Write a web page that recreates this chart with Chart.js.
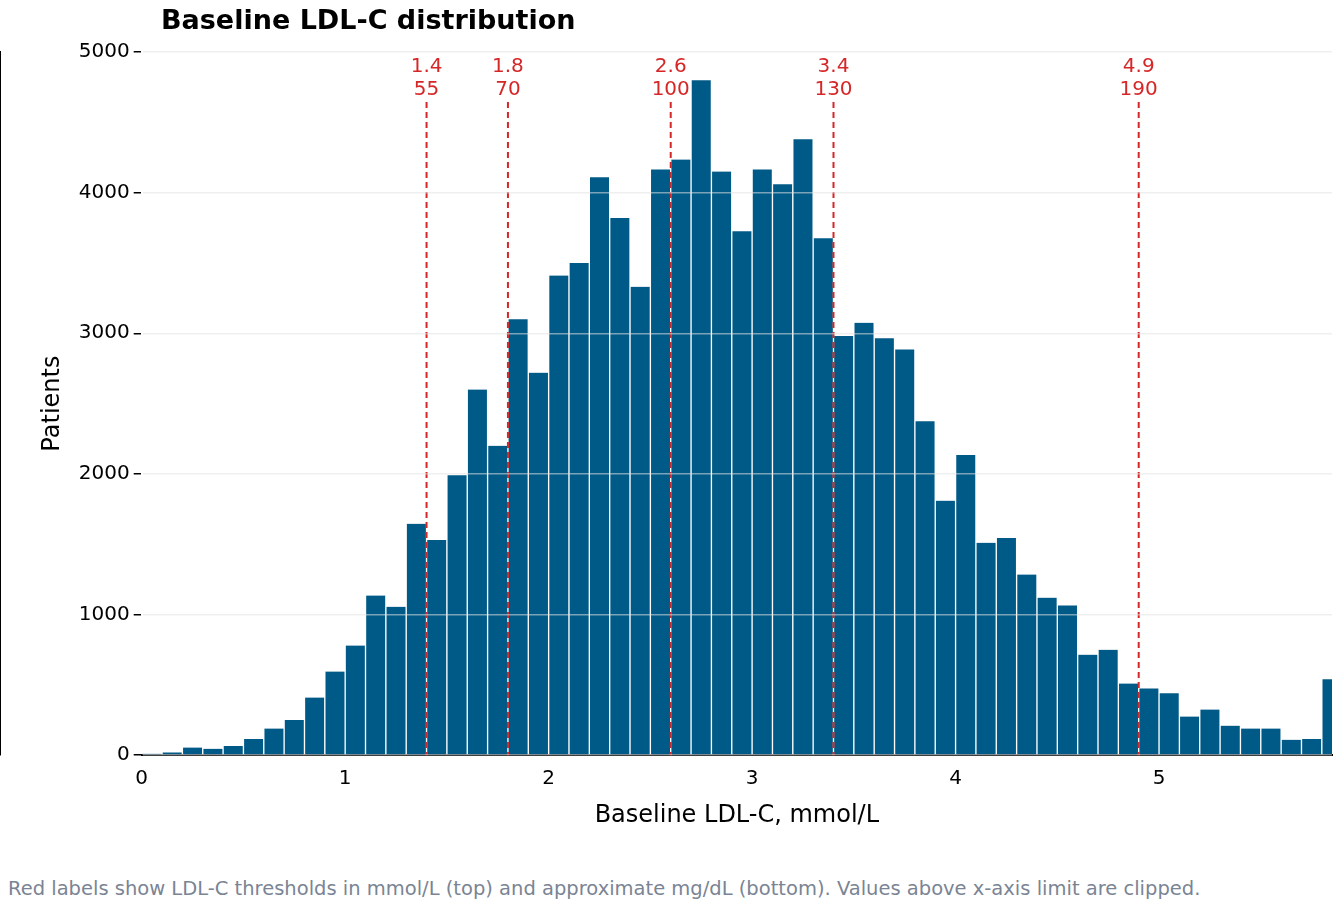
<!DOCTYPE html>
<html><head><meta charset="utf-8">
<script src="https://cdn.jsdelivr.net/npm/chart.js@4"></script>
<style>html,body{margin:0;background:#fff;}#wrap{position:relative;width:1342px;height:912px;}
#ttl{position:absolute;left:161px;top:4px;font:bold 27px "DejaVu Sans";color:#000;}
#cap{position:absolute;left:8px;top:877px;font:19.5px "DejaVu Sans";color:#7a8494;white-space:nowrap;}</style>
</head><body><div id="wrap"><canvas id="c" width="1342" height="860"></canvas>
<div id="ttl">Baseline LDL-C distribution</div>
<div id="cap">Red labels show LDL-C thresholds in mmol/L (top) and approximate mg/dL (bottom). Values above x-axis limit are clipped.</div></div>
<script>
const binStarts = [];
for (let i = 0; i < 59; i++) binStarts.push(+(i*0.1).toFixed(1));
const counts = [10,20,55,45,65,115,190,250,410,595,780,1135,1055,1645,1530,1990,2600,2200,3100,2720,3410,3500,4110,3820,3330,4165,4235,4800,4150,3725,4165,4060,4380,3675,2980,3075,2965,2885,2375,1810,2135,1510,1545,1285,1120,1065,715,750,510,475,440,275,325,210,190,190,110,115,540];
const thrMmol = [1.4,1.8,2.6,3.4,4.9];
const thrMg = ['55','70','100','130','190'];
const yTicks = [0,1000,2000,3000,4000,5000];
const xMax = 5.85;

const thrPlugin = {id:'thr', afterDatasetsDraw(ch){
  const {ctx, chartArea:a, scales:{x}} = ch;
  ctx.save();
  ctx.strokeStyle='#d62728'; ctx.lineWidth=2; ctx.setLineDash([6,4]);
  thrMmol.forEach((v,i)=>{
    const px = x.getPixelForValue(v);
    ctx.beginPath(); ctx.moveTo(px,a.top+50); ctx.lineTo(px,a.bottom); ctx.stroke();
    ctx.fillStyle='#d62728'; ctx.font='20px "DejaVu Sans"'; ctx.textAlign='center';
    ctx.fillText(String(v), px, a.top+20);
    ctx.fillText(thrMg[i], px, a.top+43);
  });
  ctx.restore();
}};

new Chart(document.getElementById('c'), {
  type:'bar',
  data:{datasets:[{data:binStarts.map((s,i)=>({x:s+0.05,y:counts[i]})),
    backgroundColor:'#005a87', borderColor:'#ffffff', borderWidth:{left:1,right:1}, borderSkipped:'bottom',
    barPercentage:1, categoryPercentage:1, grouped:false}]},
  options:{responsive:false, animation:false, devicePixelRatio:1,
    layout:{padding:{left:34,right:10,top:52,bottom:26}},
    plugins:{legend:{display:false}, tooltip:{enabled:false}},
    scales:{
      x:{type:'linear', min:0, max:xMax, offset:false,
        afterBuildTicks(ax){ax.ticks=[0,1,2,3,4,5].map(v=>({value:v}));},
        grid:{display:false, drawTicks:true, tickLength:8, tickColor:'#000'},
        border:{display:true,color:'#000',width:2},
        ticks:{color:'#000', font:{family:'DejaVu Sans',size:20}, padding:4},
        title:{display:true, text:'Baseline LDL-C, mmol/L', color:'#000', font:{family:'DejaVu Sans',size:24}, padding:{top:6}}},
      y:{min:0, max:5000,
        afterBuildTicks(ax){ax.ticks=yTicks.map(v=>({value:v}));},
        grid:{color:'rgba(225,225,225,0.55)', lineWidth:1.5, tickColor:'#000', tickLength:8, z:1},
        border:{display:true,color:'#000',width:2},
        ticks:{color:'#000', font:{family:'DejaVu Sans',size:20}, padding:4, callback:v=>String(v)},
        title:{display:true, text:'Patients', color:'#000', font:{family:'DejaVu Sans',size:24}, padding:{bottom:8}}}
    }},
  plugins:[thrPlugin]
});
</script></body></html>
